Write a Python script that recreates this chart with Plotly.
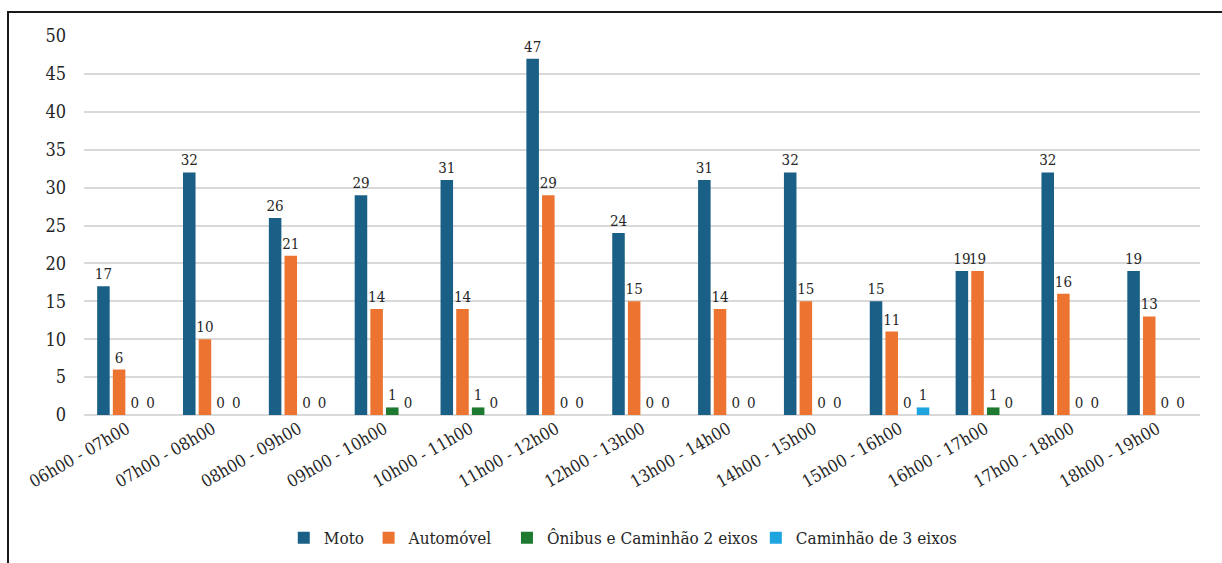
import plotly.graph_objects as go

# Hourly vehicle counts by class
horarios = ["06h00 - 07h00", "07h00 - 08h00", "08h00 - 09h00", "09h00 - 10h00",
            "10h00 - 11h00", "11h00 - 12h00", "12h00 - 13h00", "13h00 - 14h00",
            "14h00 - 15h00", "15h00 - 16h00", "16h00 - 17h00", "17h00 - 18h00",
            "18h00 - 19h00"]
moto = [17, 32, 26, 29, 31, 47, 24, 31, 32, 15, 19, 32, 19]
automovel = [6, 10, 21, 14, 14, 29, 15, 14, 15, 11, 19, 16, 13]
onibus_caminhao_2 = [0, 0, 0, 1, 1, 0, 0, 0, 0, 0, 1, 0, 0]
caminhao_3 = [0, 0, 0, 0, 0, 0, 0, 0, 0, 1, 0, 0, 0]

series = [
    ("Moto", moto, "#1a5f86"),
    ("Automóvel", automovel, "#ec7430"),
    ("Ônibus e Caminhão 2 eixos", onibus_caminhao_2, "#1d7a30"),
    ("Caminhão de 3 eixos", caminhao_3, "#1ea5e0"),
]

FONT = "DejaVu Serif Condensed"
TXT = "#262626"

# one legend box per series so each entry sits at its own spot along the bottom
legend_names = ["legend", "legend2", "legend3", "legend4"]
legend_x = [0.179, 0.255, 0.379, 0.602]

fig = go.Figure()
for (nome, valores, cor), lg in zip(series, legend_names):
    fig.add_trace(go.Bar(
        name=nome, x=horarios, y=valores, marker_color=cor,
        marker_line_width=0,
        text=[str(v) for v in valores], textposition="outside",
        textfont=dict(family=FONT, size=15, color=TXT),
        constraintext="none",
        cliponaxis=False,
        legend=lg, showlegend=True,
    ))

legend_common = dict(
    orientation="h", yanchor="middle", y=-0.325, xanchor="left",
    font=dict(family=FONT, size=17, color=TXT),
    itemwidth=30, bgcolor="rgba(0,0,0,0)",
)
legend_layout = {lg: dict(legend_common, x=x) for lg, x in zip(legend_names, legend_x)}

fig.update_layout(
    barmode="group",
    bargap=0.27,
    bargroupgap=0.2,
    width=1222, height=563,
    showlegend=True,
    margin=dict(l=84, r=22, t=36, b=148, autoexpand=False),
    paper_bgcolor="white",
    plot_bgcolor="white",
    font=dict(family=FONT, color=TXT),
    xaxis=dict(
        tickangle=-30, tickfont=dict(family=FONT, size=17, color=TXT),
        showgrid=False, showline=False, ticks="", automargin=False,
    ),
    yaxis=dict(
        range=[0, 50], dtick=5,
        tickfont=dict(family=FONT, size=18, color=TXT),
        showgrid=True, gridcolor="#d9d9d9", gridwidth=1.5,
        zeroline=True, zerolinecolor="#d9d9d9", zerolinewidth=1.5,
        ticks="", ticklabelstandoff=17, automargin=False,
    ),
    shapes=[dict(
        type="rect", xref="paper", yref="paper",
        x0=-0.0681, x1=1.0215, y0=-0.396, y1=1.0633,
        line=dict(color="#1a1a1a", width=2), layer="above",
    )],
    **legend_layout,
)

fig.write_html("out.html")
